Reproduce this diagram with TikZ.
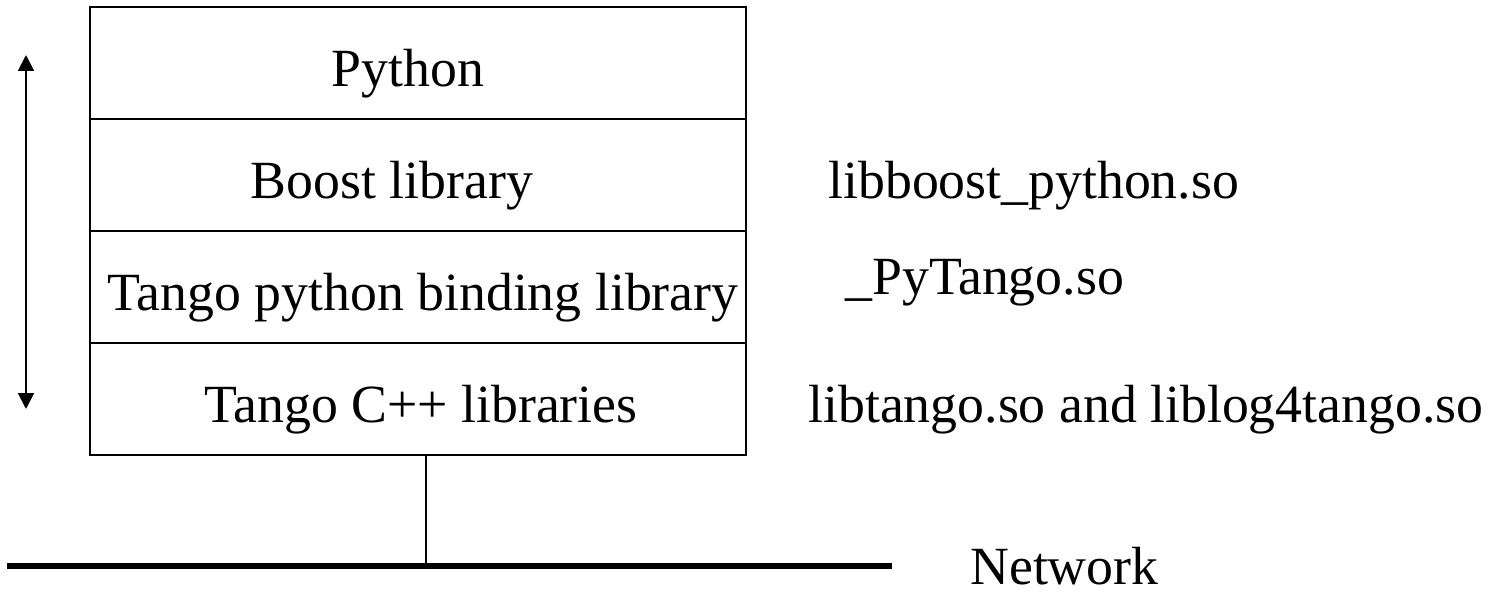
\documentclass[tikz,border=0pt]{standalone}
\usepackage{fontspec}
\setmainfont{Liberation Serif}
\usetikzlibrary{positioning,arrows.meta}

\tikzset{
  layer/.style={draw, line width=1.1pt, minimum width=13.12cm, minimum height=2.24cm, inner sep=0pt, outer sep=0pt},
  lbl/.style={font=\fontsize{30.6}{36}\selectfont, inner sep=0pt, anchor=base},
  sofile/.style={font=\fontsize{30.6}{36}\selectfont, inner sep=0pt, anchor=base west},
}

\begin{document}
\begin{tikzpicture}[x=0.02cm, y=-0.02cm]
    \useasboundingbox (0,0) rectangle (1489,592);
    % ---- software stack ----
    \node[layer] (python) at (418,63) {};
    \node[layer, below=0pt of python] (boost) {};
    \node[layer, below=0pt of boost] (binding) {};
    \node[layer, below=0pt of binding] (cpp) {};
    \node[lbl] (tpython) at (408,86) {Python};
    \node[lbl] (tboost) at (392,198) {Boost library};
    \node[lbl] (tbinding) at (423,310) {Tango python binding library};
    \node[lbl] (tcpp) at (421,422) {Tango C++ libraries};
    % ---- shared objects ----
    \node[sofile] (soboost) at (828,198) {libboost\_python.so};
    \node[sofile] (sopytango) at (845,294) {\_PyTango.so};
    \node[sofile] (sotango) at (808,422) {libtango.so and liblog4tango.so};
    % ---- up/down arrow ----
    \coordinate (top) at (26,55);
    \coordinate (bottom) at (26,409);
    \draw[line width=1.1pt, {Triangle[length=0.32cm, width=0.32cm]}-{Triangle[length=0.32cm, width=0.32cm]}] (top) -- (bottom);
    % ---- network ----
    \coordinate (netL) at (7,566);
    \coordinate (netR) at (892,566);
    \coordinate (tap) at (426,566);
    \draw[line width=3.4pt] (netL) -- (netR);
    \draw[line width=1.1pt] (tap |- cpp.south) -- (tap);
    \node[sofile] (network) at (970,584) {Network};
\end{tikzpicture}
\end{document}
